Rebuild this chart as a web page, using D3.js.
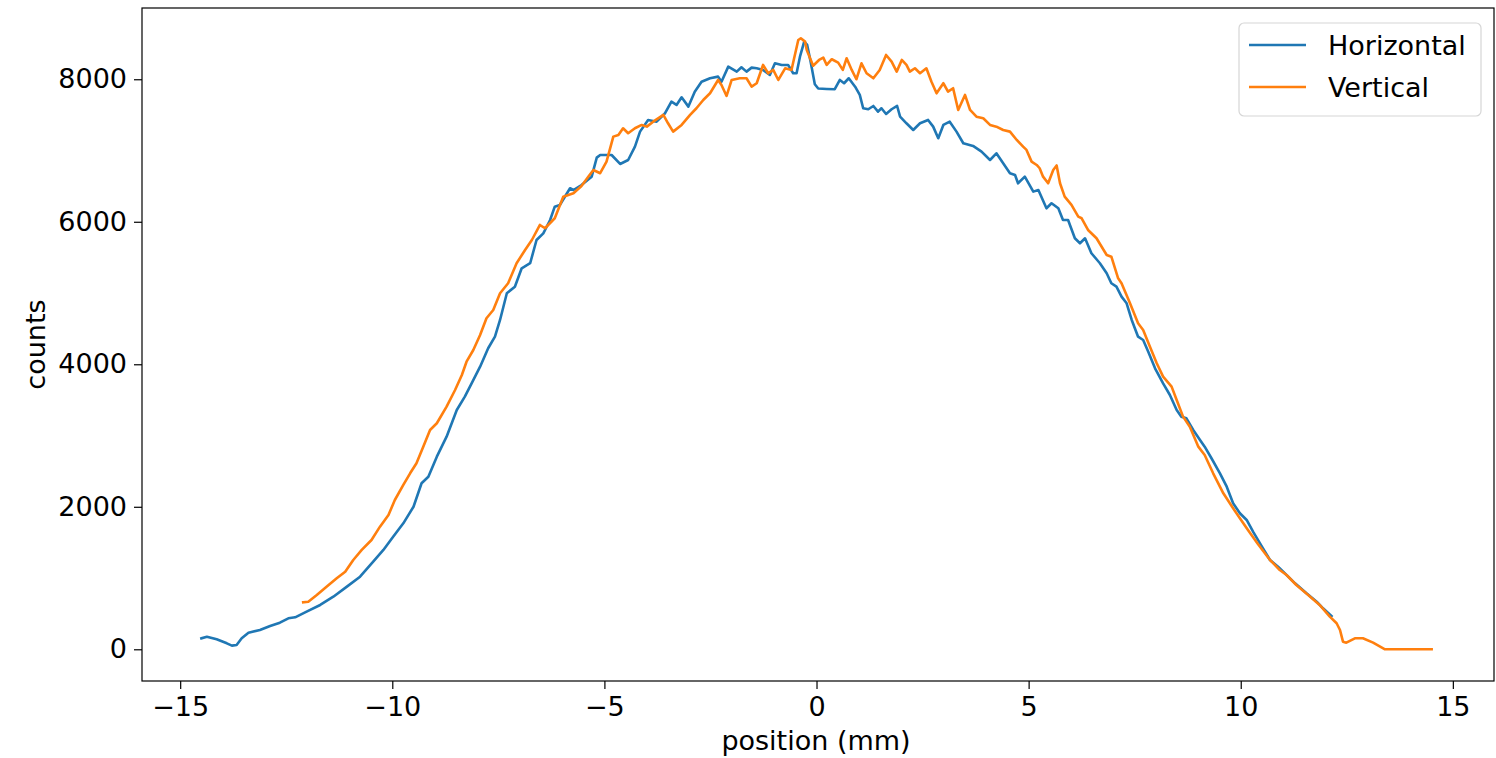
<!DOCTYPE html>
<html>
<head>
<meta charset="utf-8">
<script src="https://d3js.org/d3.v7.min.js"></script>
<style>
  body { margin: 0; background: #fff; }
  #chart text { font-family: "DejaVu Sans", sans-serif; fill: #000; }
</style>
</head>
<body>
<div id="chart"></div>
<script>
// 水平方向 (Horizontal) 数据：位置 mm / 计数
const hPos = [-14.5,-14.37,-14.14,-13.9,-13.78,-13.67,-13.55,-13.39,-13.12,-12.88,-12.65,-12.45,-12.29,-12.02,-11.7,-11.39,-11.07,-10.76,-10.45,-10.21,-9.98,-9.74,-9.5,-9.31,-9.15,-8.95,-8.72,-8.48,-8.29,-8.13,-7.93,-7.74,-7.58,-7.46,-7.3,-7.11,-6.95,-6.75,-6.6,-6.44,-6.28,-6.17,-6.05,-5.81,-5.73,-5.54,-5.3,-5.18,-5.1,-4.83,-4.63,-4.44,-4.28,-4.16,-3.97,-3.77,-3.57,-3.42,-3.3,-3.18,-3.02,-2.87,-2.71,-2.51,-2.32,-2.24,-2.08,-1.88,-1.77,-1.65,-1.53,-1.41,-1.26,-1.1,-0.98,-0.82,-0.67,-0.55,-0.47,-0.39,-0.29,-0.22,-0.14,-0.04,0.04,0.24,0.43,0.55,0.65,0.76,0.91,1.02,1.1,1.22,1.34,1.45,1.53,1.64,1.77,1.9,1.97,2.12,2.28,2.44,2.63,2.75,2.87,2.99,3.14,3.3,3.46,3.69,3.89,4.09,4.24,4.4,4.56,4.68,4.75,4.91,5.11,5.23,5.42,5.54,5.7,5.81,5.93,6.09,6.21,6.33,6.48,6.68,6.84,6.95,7.07,7.19,7.31,7.43,7.58,7.7,7.82,7.98,8.17,8.33,8.49,8.6,8.72,8.88,9.04,9.15,9.31,9.51,9.67,9.82,9.98,10.14,10.3,10.5,10.69,10.88,11.0,11.28,11.55,11.79,11.94,12.14];
const hCounts = [154,177,140,84,51,60,154,233,271,327,373,435,449,528,622,738,879,1019,1229,1394,1580,1768,2001,2330,2422,2703,2984,3358,3545,3733,3966,4225,4387,4622,4997,5089,5347,5418,5744,5838,6025,6212,6236,6470,6446,6516,6633,6900,6937,6937,6811,6867,7054,7265,7429,7405,7523,7686,7640,7747,7616,7826,7966,8014,8037,7966,8177,8107,8168,8107,8163,8154,8131,8060,8224,8201,8201,8084,8084,8317,8528,8482,8250,7930,7870,7864,7860,7990,7944,8014,7896,7780,7593,7579,7625,7545,7593,7513,7579,7625,7475,7382,7288,7382,7429,7335,7172,7359,7405,7265,7102,7064,6984,6867,6961,6821,6681,6657,6540,6633,6423,6446,6189,6260,6189,6025,6025,5768,5698,5768,5558,5418,5277,5137,5089,4949,4856,4622,4387,4341,4177,3944,3733,3569,3358,3265,3242,3078,2937,2844,2681,2470,2282,2049,1909,1815,1640,1440,1253,1159,1089,926,786,668,575,467];

// 垂直方向 (Vertical) 数据
const vPos = [-12.1,-11.98,-11.78,-11.55,-11.31,-11.11,-10.92,-10.72,-10.49,-10.29,-10.09,-9.94,-9.74,-9.58,-9.43,-9.27,-9.11,-8.95,-8.72,-8.52,-8.36,-8.25,-8.09,-7.93,-7.78,-7.62,-7.46,-7.27,-7.07,-6.87,-6.71,-6.52,-6.4,-6.17,-5.97,-5.73,-5.54,-5.38,-5.26,-5.1,-4.95,-4.79,-4.67,-4.56,-4.44,-4.28,-4.12,-4.0,-3.85,-3.61,-3.5,-3.38,-3.18,-2.98,-2.83,-2.67,-2.51,-2.32,-2.24,-2.12,-2.0,-1.81,-1.65,-1.53,-1.41,-1.26,-1.14,-1.02,-0.9,-0.74,-0.59,-0.43,-0.37,-0.27,-0.23,-0.08,0.06,0.16,0.24,0.36,0.51,0.62,0.71,0.83,0.94,1.06,1.18,1.34,1.49,1.64,1.77,1.89,2.01,2.12,2.2,2.32,2.44,2.59,2.71,2.83,2.99,3.1,3.22,3.34,3.5,3.62,3.77,3.93,4.09,4.24,4.4,4.56,4.72,4.87,4.95,5.07,5.19,5.26,5.34,5.46,5.58,5.66,5.74,5.85,6.01,6.17,6.25,6.4,6.6,6.84,6.95,7.11,7.19,7.39,7.58,7.7,7.86,8.02,8.17,8.37,8.49,8.64,8.8,9.0,9.15,9.35,9.59,9.82,9.98,10.17,10.4,10.69,10.92,11.08,11.31,11.59,11.86,12.1,12.26,12.34,12.41,12.49,12.69,12.88,13.12,13.4,14.5];
const vCounts = [660,668,762,879,996,1089,1253,1394,1534,1721,1885,2095,2306,2470,2611,2844,3078,3172,3405,3639,3850,4036,4200,4410,4646,4762,4997,5137,5418,5604,5744,5955,5909,6049,6350,6400,6502,6633,6727,6681,6844,7195,7218,7312,7242,7312,7359,7335,7405,7499,7382,7265,7359,7499,7593,7709,7803,7990,7920,7766,7990,8014,8014,7896,7944,8201,8084,8131,7990,8154,8131,8551,8575,8528,8412,8190,8271,8303,8201,8281,8233,8131,8295,8131,8000,8224,8084,8014,8131,8341,8247,8107,8271,8201,8107,8154,8084,8154,7966,7803,7944,7826,7874,7569,7780,7569,7475,7453,7359,7335,7288,7265,7148,7054,7008,6844,6797,6751,6633,6540,6727,6790,6540,6352,6236,6072,6049,5885,5768,5534,5510,5207,5137,4856,4575,4481,4247,4014,3826,3686,3499,3265,3124,2844,2727,2470,2189,1979,1838,1674,1480,1253,1113,1043,902,762,622,458,365,271,107,93,154,154,93,0,0];

// 坐标轴刻度
const xTicks = [-15, -10, -5, 0, 5, 10, 15];
const yTicks = [0, 2000, 4000, 6000, 8000];
const seriesNames = ["Horizontal", "Vertical"];
const seriesColors = ["#1f77b4", "#ff7f0e"];

document.addEventListener('DOMContentLoaded', function () {
    const W = 1496, H = 758;
    const plot = {left: 142, right: 1494, top: 8, bottom: 681};
    const fs = "27px";

    const svg = d3.select("#chart").append("svg")
        .attr("width", W)
        .attr("height", H);

    const x = d3.scaleLinear()
        .domain([-15.90, 15.97])
        .range([plot.left, plot.right]);
    const y = d3.scaleLinear()
        .domain([-445, 9000])
        .range([plot.bottom, plot.top]);

    // 负号使用 unicode minus
    const fmt = d => (d < 0 ? "\u2212" + Math.abs(d) : String(d));

    // x 轴
    const gx = svg.append("g")
        .attr("transform", `translate(0,${plot.bottom})`)
        .call(d3.axisBottom(x).tickValues(xTicks).tickFormat(fmt).tickSize(8).tickPadding(8));
    gx.select(".domain").remove();
    gx.selectAll("line").attr("stroke", "#000").attr("stroke-width", 1.2);
    gx.selectAll("text").style("font-size", fs).attr("fill", "#000");

    // y 轴
    const gy = svg.append("g")
        .attr("transform", `translate(${plot.left},0)`)
        .call(d3.axisLeft(y).tickValues(yTicks).tickFormat(d3.format("d")).tickSize(8).tickPadding(7));
    gy.select(".domain").remove();
    gy.selectAll("line").attr("stroke", "#000").attr("stroke-width", 1.2);
    gy.selectAll("text").style("font-size", fs).attr("fill", "#000");

    // 数据线
    const line = d3.line()
        .x(d => x(d[0]))
        .y(d => y(d[1]));

    const series = [
        d3.zip(hPos, hCounts),
        d3.zip(vPos, vCounts)
    ];

    svg.append("g").selectAll("path")
        .data(series)
        .join("path")
        .attr("fill", "none")
        .attr("stroke", (d, i) => seriesColors[i])
        .attr("stroke-width", 2.6)
        .attr("stroke-linejoin", "round")
        .attr("stroke-linecap", "square")
        .attr("d", line);

    // 边框
    svg.append("rect")
        .attr("x", plot.left)
        .attr("y", plot.top)
        .attr("width", plot.right - plot.left)
        .attr("height", plot.bottom - plot.top)
        .attr("fill", "none")
        .attr("stroke", "#000")
        .attr("stroke-width", 1.2);

    // 轴标题
    svg.append("text")
        .attr("x", (plot.left + plot.right) / 2 - 2)
        .attr("y", 750)
        .attr("text-anchor", "middle")
        .style("font-size", fs)
        .text("position (mm)");

    svg.append("text")
        .attr("transform", `translate(45,${(plot.top + plot.bottom) / 2}) rotate(-90)`)
        .attr("text-anchor", "middle")
        .style("font-size", fs)
        .text("counts");

    // 图例
    const lg = svg.append("g");
    lg.append("rect")
        .attr("x", 1239).attr("y", 23)
        .attr("width", 242).attr("height", 93)
        .attr("rx", 5)
        .attr("fill", "#fff").attr("fill-opacity", 0.8)
        .attr("stroke", "#d6d6d6").attr("stroke-width", 1.2);

    seriesNames.forEach((name, i) => {
        const yy = 45 + i * 42;
        lg.append("line")
            .attr("x1", 1249).attr("x2", 1306)
            .attr("y1", yy).attr("y2", yy)
            .attr("stroke", seriesColors[i])
            .attr("stroke-width", 2.6);
        lg.append("text")
            .attr("x", 1328).attr("y", yy + 10)
            .style("font-size", fs)
            .text(name);
    });
});
</script>
</body>
</html>
